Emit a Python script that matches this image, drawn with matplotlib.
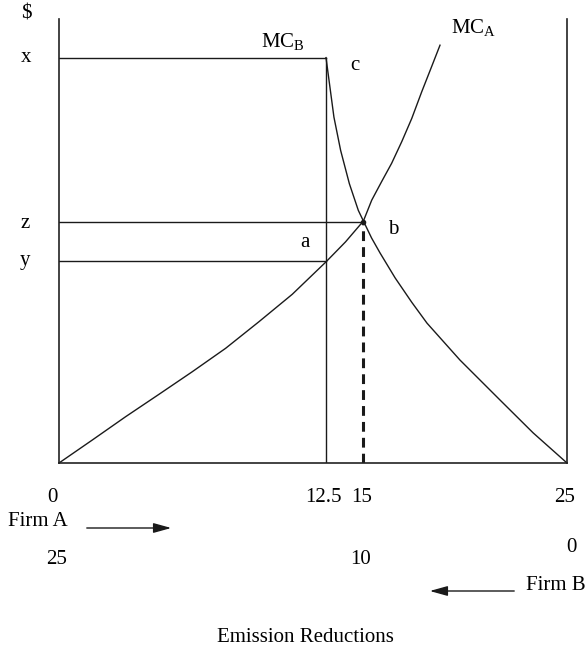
import matplotlib
matplotlib.use("Agg")
import matplotlib.pyplot as plt
from matplotlib.patches import FancyArrowPatch

plt.rcParams['font.family'] = ['Liberation Serif', 'DejaVu Serif']
plt.rcParams['mathtext.fontset'] = 'custom'
plt.rcParams['mathtext.rm'] = 'Liberation Serif'

# ---- data ----
mca_x = [0, 1.64, 3.28, 4.92, 6.56, 8.20, 9.84, 11.48, 13.14, 14.10, 14.98,
         15.39, 15.88, 16.37, 16.87, 17.36, 17.85, 18.34, 18.75]
mca_y = [0, 5.18, 10.43, 15.47, 20.56, 25.83, 31.82, 38.0, 45.3, 49.8, 54.5,
         59.2, 63.4, 67.5, 72.4, 77.6, 83.6, 89.3, 94.1]
mcb_x = [13.14, 13.53, 13.86, 14.29, 14.73, 14.98, 15.38, 15.80, 16.54, 17.36,
         18.11, 19.73, 21.70, 23.33, 25]
mcb_y = [91.3, 77.9, 70.4, 62.9, 56.9, 54.5, 50.7, 47.3, 41.7, 36.2,
         31.5, 23.2, 14.2, 6.8, 0]
kink_x = 13.14
equil_x = 14.98
x_level = 91.3
z_level = 54.3
y_level = 45.5
firm_a_ticks = ['0', '12.5', '15', '25']
firm_b_ticks = ['25', '10', '0']

W, H = 587, 649
fig = plt.figure(figsize=(W / 100, H / 100), dpi=100)
ax = fig.add_axes([59 / W, 1 - 463 / H, (567 - 59) / W, (463 - 19) / H])
ax.set_xlim(0, 25)
ax.set_ylim(0, 100)
ax.spines['top'].set_visible(False)
for s in ['left', 'bottom', 'right']:
    ax.spines[s].set_linewidth(1.2)
    ax.spines[s].set_color('#222222')
ax.set_xticks([])
ax.set_yticks([])

lc = '#1a1a1a'
lw = 1.0
ax.plot(mca_x, mca_y, color=lc, lw=lw, clip_on=False)
ax.plot(mcb_x, mcb_y, color=lc, lw=lw, clip_on=False)
ax.plot([0, kink_x], [x_level, x_level], color=lc, lw=lw)
ax.plot([kink_x, kink_x], [0, x_level], color=lc, lw=lw)
ax.plot([0, equil_x], [z_level, z_level], color=lc, lw=lw)
ax.plot([0, kink_x], [y_level, y_level], color=lc, lw=lw)
ax.plot([equil_x, equil_x], [0, z_level], color=lc, lw=2.2, dashes=(3.2, 2.0))
ax.plot([equil_x], [z_level], 'o', color=lc, ms=3)


def ft(px, py, s, **kw):
    fig.text(px / W, 1 - py / H, s, ha='center', va='center', fontsize=15, **kw)


ft(26, 14, '$')
ft(26, 58, 'x')
ft(25, 223, 'z')
ft(25, 261, 'y')
ft(283, 42, r'MC$_\mathrm{B}$')
ft(474, 28, r'MC$_\mathrm{A}$')
ft(355, 66, 'c')
ft(393, 230, 'b')
ft(305, 243, 'a')

ft(52, 497, firm_a_ticks[0])
ft(323, 497, firm_a_ticks[1])
ft(362, 497, firm_a_ticks[2])
ft(565, 497, firm_a_ticks[3])
ft(38, 522, 'Firm A')
ft(57, 559, firm_b_ticks[0])
ft(361, 560, firm_b_ticks[1])
ft(571, 548, firm_b_ticks[2])
ft(556, 586, 'Firm B')
ft(305, 638, 'Emission Reductions')

astyle = '-|>,head_length=0.9,head_width=0.25'
fig.add_artist(FancyArrowPatch((84 / W, 1 - 528 / H), (174 / W, 1 - 528 / H),
               transform=fig.transFigure, arrowstyle=astyle, color=lc, lw=1.0,
               mutation_scale=12))
fig.add_artist(FancyArrowPatch((517 / W, 1 - 591 / H), (427 / W, 1 - 591 / H),
               transform=fig.transFigure, arrowstyle=astyle, color=lc, lw=1.0,
               mutation_scale=12))

fig.savefig('out.png', dpi=100)
